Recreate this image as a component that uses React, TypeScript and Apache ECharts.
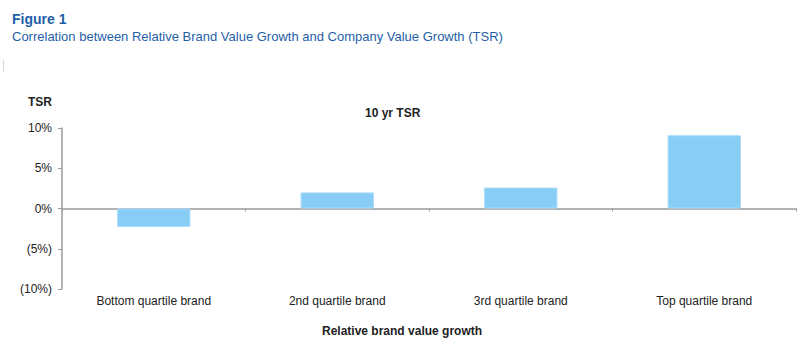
import React, { useEffect, useRef } from "react";
import * as echarts from "echarts";

const categories = ["Bottom quartile brand", "2nd quartile brand", "3rd quartile brand", "Top quartile brand"];
const tsrValues = [-2.3, 2.0, 2.6, 9.1];
const yTicks = [-10, -5, 0, 5, 10];

const FONT = "'Liberation Sans', Arial, sans-serif";
const BLUE = "#1f5fa8";

export default function App() {
  const ref = useRef<HTMLDivElement>(null);
  useEffect(() => {
    if (!ref.current) return;
    const chart = echarts.init(ref.current, null, { renderer: "svg" });
    chart.setOption({
      animation: false,
      textStyle: { fontFamily: FONT },
      graphic: [
        { type: "text", left: 12, top: 12, style: { text: "Figure 1", font: `bold 14px ${FONT}`, fill: BLUE } },
        {
          type: "text", left: 12, top: 30,
          style: { text: "Correlation between Relative Brand Value Growth and Company Value Growth (TSR)", font: `13px ${FONT}`, fill: BLUE },
        },
        { type: "rect", shape: { x: 3, y: 60, width: 1, height: 12 }, style: { fill: "#d8d8d8" } },
        { type: "text", left: 28, top: 96, style: { text: "TSR", font: `bold 12px ${FONT}`, fill: "#222" } },
        { type: "text", left: 365, top: 107, style: { text: "10 yr TSR", font: `bold 12px ${FONT}`, fill: "#222" } },
        { type: "text", left: 322, top: 325, style: { text: "Relative brand value growth", font: `bold 12px ${FONT}`, fill: "#222" } },
      ],
      grid: { left: 62, right: 9, top: 128, bottom: 75, containLabel: false },
      xAxis: [
        {
          type: "category",
          data: categories,
          position: "bottom",
          axisLine: { show: false, onZero: false },
          axisTick: { show: false },
          axisLabel: { color: "#222", fontSize: 12, margin: 6, fontFamily: FONT },
        },
        {
          type: "category",
          data: categories,
          position: "bottom",
          axisLine: { show: true, onZero: true, lineStyle: { color: "#9a9a9a", width: 1.5 } },
          axisTick: { show: true, length: 3, lineStyle: { color: "#9a9a9a" } },
          axisLabel: { show: false },
        },
      ],
      yAxis: {
        type: "value",
        min: -10,
        max: 10,
        interval: 5,
        splitLine: { show: false },
        axisLine: { show: true, lineStyle: { color: "#9a9a9a", width: 1.5 } },
        axisTick: { show: true, inside: false, length: 4, lineStyle: { color: "#9a9a9a" } },
        axisLabel: {
          color: "#222",
          fontSize: 12,
          margin: 10,
          fontFamily: FONT,
          formatter: (v: number) => (yTicks.includes(v) ? (v < 0 ? `(${-v}%)` : `${v}%`) : ""),
        },
      },
      series: [
        {
          type: "bar",
          xAxisIndex: 0,
          data: tsrValues,
          barWidth: "40%",
          itemStyle: { color: "#88cdf6", borderColor: "#a9dcfa", borderWidth: 1 },
        },
      ],
    });
    return () => chart.dispose();
  }, []);
  return <div ref={ref} style={{ width: 805, height: 364, position: "absolute", left: 0, top: 0 }} />;
}
